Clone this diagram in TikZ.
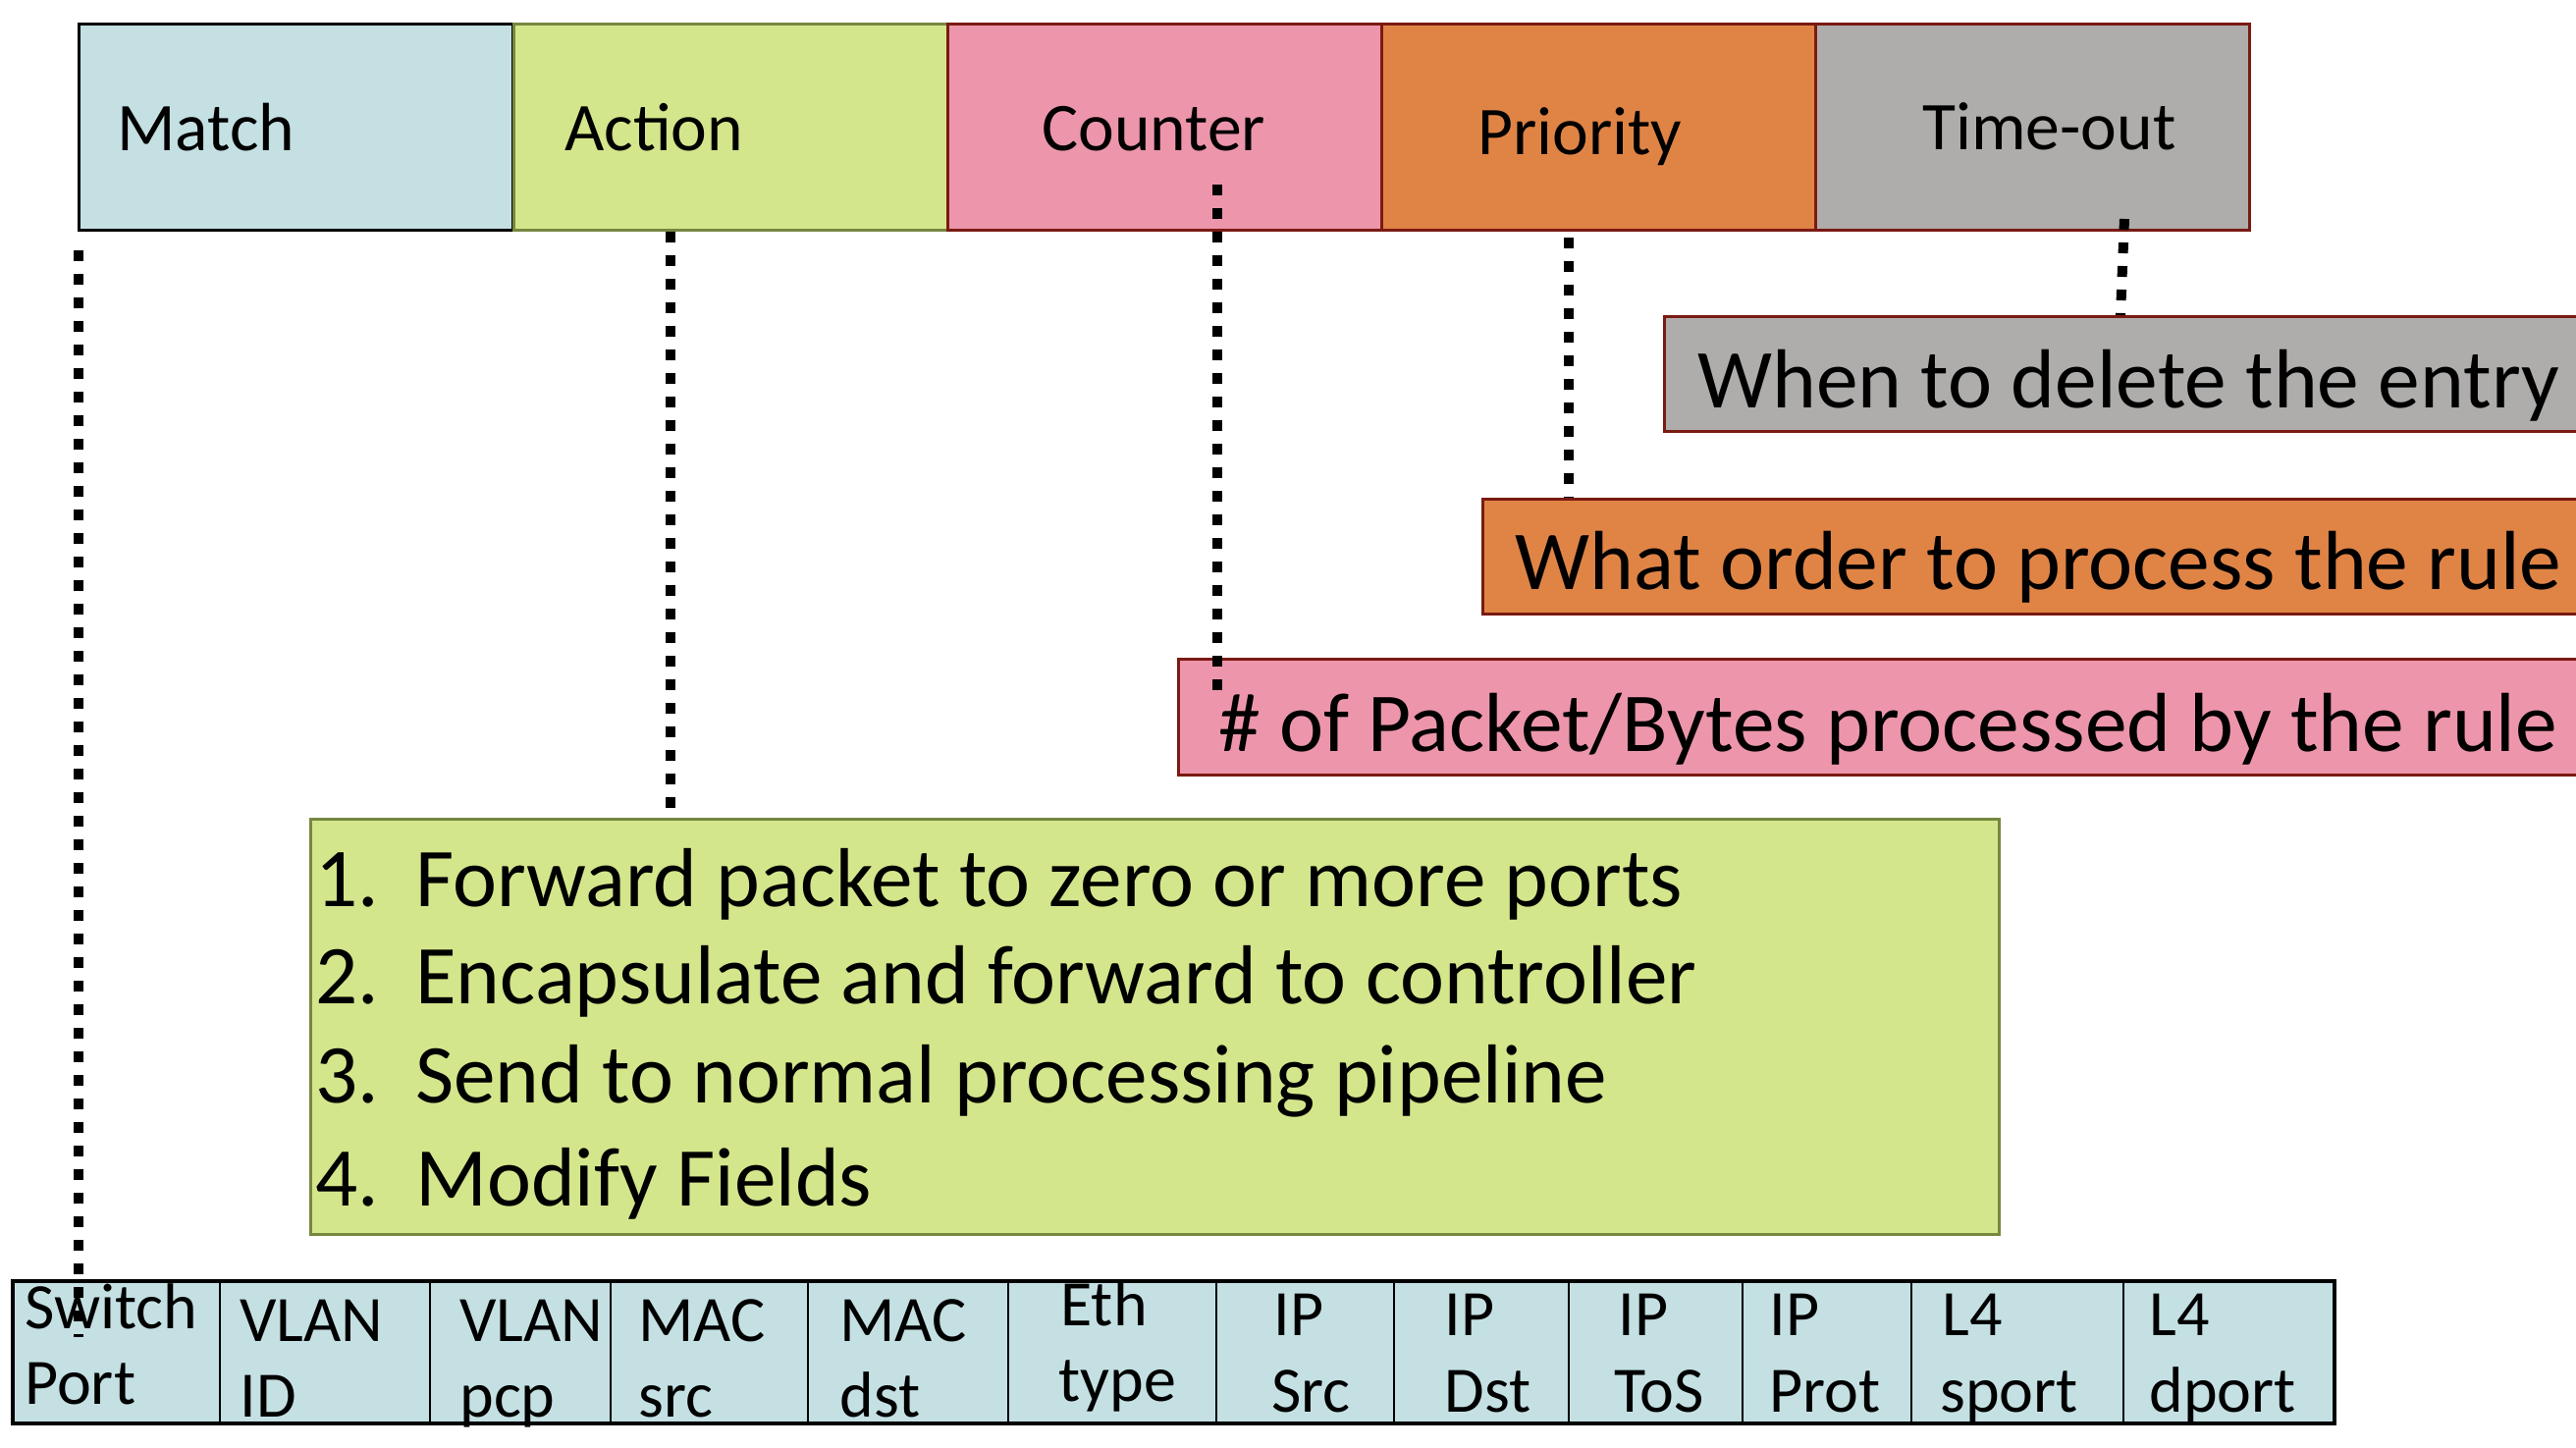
\documentclass[tikz,border=0pt]{standalone}
\usepackage{fontspec}
\setmainfont{Carlito}
\definecolor{mblue}{HTML}{C4E0E3}
\definecolor{mgreen}{HTML}{D3E68B}
\definecolor{mpink}{HTML}{ED96AB}
\definecolor{morange}{HTML}{E08446}
\definecolor{mgray}{HTML}{AEADAB}
\definecolor{dred}{HTML}{7A1A12}
\definecolor{olive}{HTML}{76883F}
\begin{document}
\begin{tikzpicture}[x=0.5pt,y=-0.5pt,
  topbox/.style={draw, line width=1.5pt, inner sep=0pt, anchor=north west, minimum width=221pt, minimum height=105pt},
  callout/.style={draw=dred, line width=1.5pt, inner sep=0pt, anchor=north west, minimum height=58.5pt},
  cell/.style={draw=black, fill=mblue, line width=1pt, inner sep=0pt, anchor=north west, minimum height=71.5pt},
  toplabel/.style={anchor=base west, inner sep=0pt, font=\fontsize{34.8pt}{40pt}\selectfont},
  biglabel/.style={anchor=base west, inner sep=0pt, font=\fontsize{42.7pt}{50pt}\selectfont},
  listlabel/.style={anchor=base west, inner sep=0pt, font=\fontsize{42.6pt}{48pt}\selectfont},
  celllabel/.style={anchor=base west, inner sep=0pt, font=\fontsize{33pt}{38pt}\selectfont},
  dotline/.style={line width=5pt, dash pattern=on 5.5pt off 6.5pt}]
\clip (0,0) rectangle (2624,1474);
% top row
\node[topbox, fill=mblue, draw=black] (match) at (79,23) {};
\node[topbox, fill=mgreen, draw=olive] (action) at (522,23) {};
\node[topbox, fill=mpink, draw=dred] (counter) at (964,23) {};
\node[topbox, fill=morange, draw=dred] (priority) at (1406,23) {};
\node[topbox, fill=mgray, draw=dred] (timeout) at (1848,23) {};
\node[toplabel] (lmatch) at (119,153) {Match};
\node[toplabel] (laction) at (575,153) {Action};
\node[toplabel] (lcounter) at (1061,153) {Counter};
\node[toplabel] (lpriority) at (1505,157) {Priority};
\node[toplabel] (ltimeout) at (1958,152) {Time-out};
% callouts
\node[callout, fill=mgray, minimum width=473pt] (delete) at (1694,321) {};
\node[biglabel] (ldelete) at (1729,415) {When to delete the entry};
\node[callout, fill=morange, minimum width=565.5pt] (order) at (1509,507) {};
\node[biglabel] (lorder) at (1543,600) {What order to process the rule};
\node[callout, fill=mpink, minimum width=720.5pt, minimum height=59pt] (count) at (1199,670) {};
\node[biglabel] (lcount) at (1241,765) {\# of Packet/Bytes processed by the rule};
% action list
\node[draw=olive, fill=mgreen, line width=1.5pt, inner sep=0pt, anchor=north west, minimum width=860pt, minimum height=211.5pt] (list) at (315,833) {};
\node[listlabel] (n1) at (321,923) {1.};
\node[listlabel] (t1) at (423,923) {Forward packet to zero or more ports};
\node[listlabel] (n2) at (321,1022) {2.};
\node[listlabel] (t2) at (423,1022) {Encapsulate and forward to controller};
\node[listlabel] (n3) at (321,1123) {3.};
\node[listlabel] (t3) at (423,1123) {Send to normal processing pipeline};
\node[listlabel] (n4) at (321,1228) {4.};
\node[listlabel] (t4) at (423,1228) {Modify Fields};
% bottom row cells
\foreach \a/\b [count=\i] in {13/223,223/437,437/621,621/822,822/1026,1026/1238,1238/1419,1419/1597,1597/1774,1774/1946,1946/2162,2162/2376}
  \node[cell, minimum width={(\b-\a)*0.5pt}] (c\i) at (\a,1305) {};
\draw[line width=1.6pt] (c1.north west) rectangle (c12.south east);
\foreach \xa/\ya/\ta/\xb/\yb/\tb [count=\i] in {
  25/1353/Switch/25/1430/Port,
  244/1366/VLAN/244/1443/ID,
  468/1366/VLAN/468/1443/pcp,
  650/1366/MAC/650/1443/src,
  855/1366/MAC/855/1443/dst,
  1080/1350/Eth/1078/1427/type,
  1297/1360/IP/1295/1438/Src,
  1471/1360/IP/1471/1438/Dst,
  1648/1360/IP/1644/1438/ToS,
  1802/1360/IP/1802/1438/Prot,
  1978/1360/L4/1976/1438/sport,
  2189/1360/L4/2189/1438/dport}
{
  \node[celllabel] (ca\i) at (\xa,\ya) {\ta};
  \node[celllabel] (cb\i) at (\xb,\yb) {\tb};
}
% connectors
\coordinate (m1) at (80,255);
\coordinate (m2) at (80,1362);
\coordinate (a1) at (683,236);
\coordinate (a2) at (683,830);
\coordinate (k1) at (1240,188);
\coordinate (k2) at (1240,712);
\coordinate (p1) at (1598,242);
\coordinate (p2) at (1598,507);
\coordinate (o1) at (2164,223);
\coordinate (o2) at (2160,321);
\draw[dotline] (m1) -- (m2);
\draw[dotline] (a1) -- (a2);
\draw[dotline] (k1) -- (k2);
\draw[dotline] (p1) -- (p2);
\draw[dotline] (o1) -- (o2);
\end{tikzpicture}
\end{document}
